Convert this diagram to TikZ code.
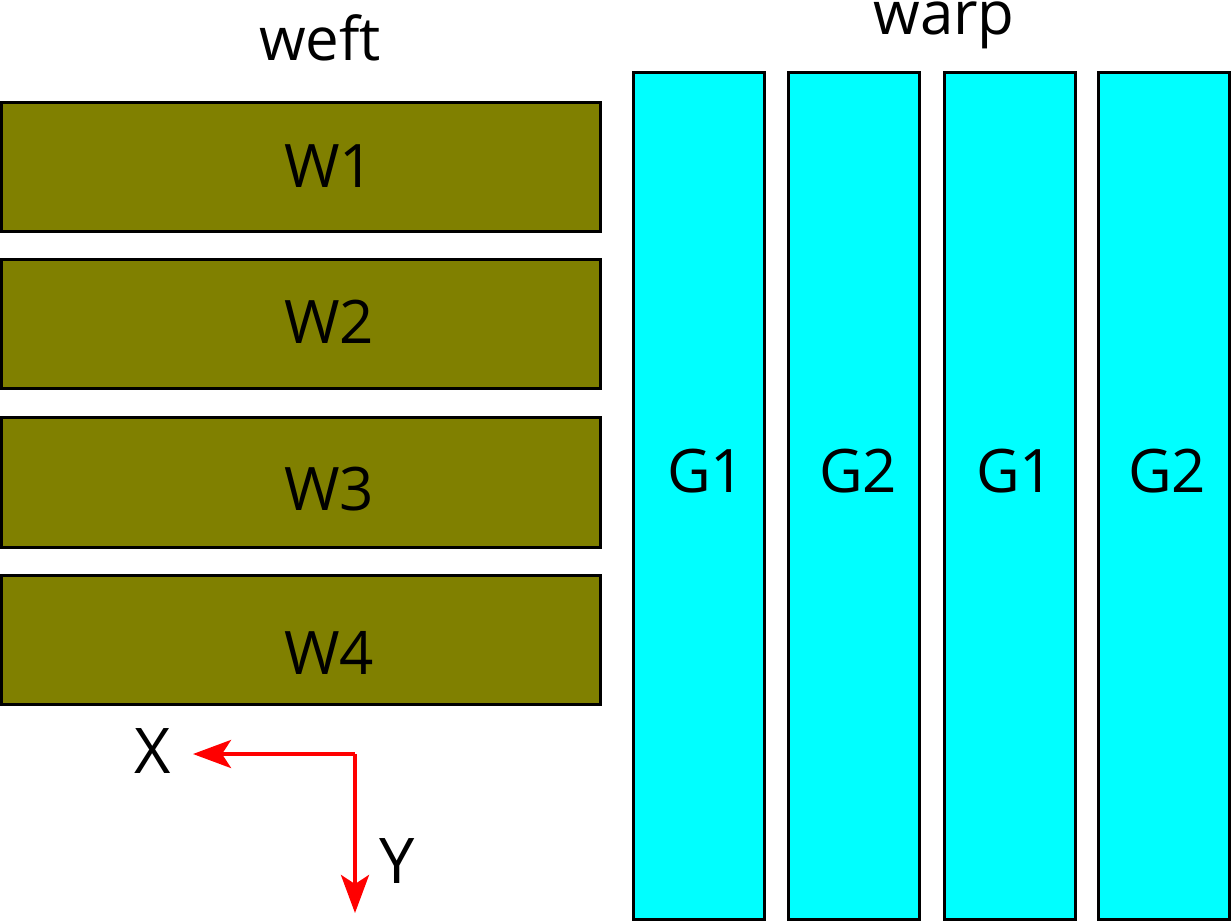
\documentclass[tikz,border=0pt]{standalone}
\usepackage{fontspec}
\setmainfont{Open Sans}
\usetikzlibrary{arrows.meta}
\definecolor{weftcol}{HTML}{808000}
\definecolor{warpcol}{HTML}{00FFFF}
\begin{document}
\begin{tikzpicture}[x=1pt,y=-1pt,
  weftbox/.style={draw=black, line width=3pt, fill=weftcol, minimum width=599pt, minimum height=129pt, inner sep=0pt, outer sep=0pt},
  warpbox/.style={draw=black, line width=3pt, fill=warpcol, minimum width=131pt, minimum height=847pt, inner sep=0pt, outer sep=0pt},
  lbl/.style={inner sep=0pt, anchor=base, font=\fontsize{60}{68}\selectfont},
  axis/.style={draw=red, line width=4pt, -{Stealth[length=38pt,width=28pt,inset=9pt]}}]
\useasboundingbox (0,0) rectangle (1232,922);
% weft boxes
\node[weftbox] (w1) at (301,167) {};
\node[weftbox] (w2) at (301,324) {};
\node[weftbox, minimum height=130pt] (w3) at (301,482) {};
\node[weftbox] (w4) at (301,640) {};
% warp boxes
\node[warpbox] (g1a) at (699,496) {};
\node[warpbox] (g2a) at (853.5,496) {};
\node[warpbox] (g1b) at (1009.5,496) {};
\node[warpbox] (g2b) at (1163.5,496) {};
% labels
\node[lbl] (tweft) at (320,60) {weft};
\node[lbl] (twarp) at (944,34) {warp};
\node[lbl] (tw1) at (329,187) {W1};
\node[lbl] (tw2) at (329,343) {W2};
\node[lbl] (tw3) at (329,510) {W3};
\node[lbl] (tw4) at (329,674) {W4};
\node[lbl] (tg1a) at (706,492) {G1};
\node[lbl] (tg2a) at (858,492) {G2};
\node[lbl] (tg1b) at (1015,492) {G1};
\node[lbl] (tg2b) at (1167,492) {G2};
% axes
\coordinate (o) at (355,754);
\coordinate (xe) at (193,754);
\coordinate (ye) at (355,913);
\draw[axis] (o) -- (xe);
\draw[axis] (o) -- (ye);
\node[lbl, font=\fontsize{63}{70}\selectfont] (tx) at (153,773) {X};
\node[lbl, font=\fontsize{63}{70}\selectfont] (ty) at (397,883) {Y};
\end{tikzpicture}
\end{document}
